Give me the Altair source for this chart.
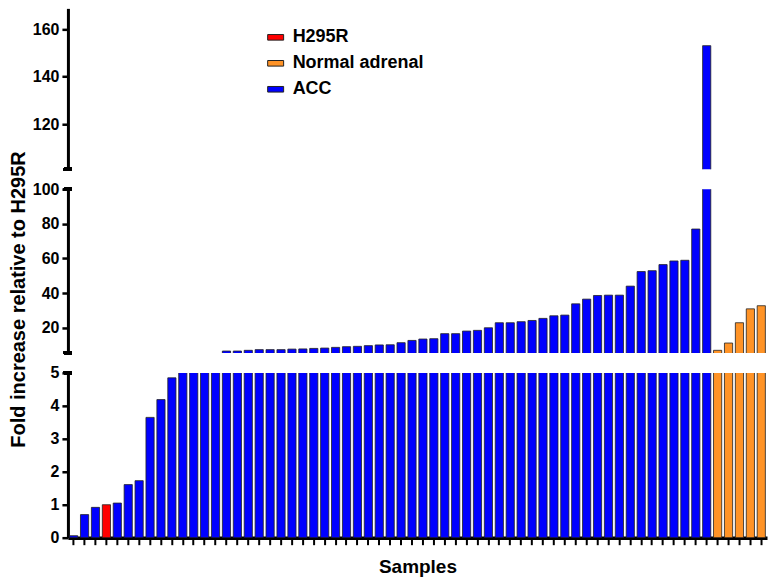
import altair as alt
import pandas as pd

# ---- data ----
values = [0.06, 0.70, 0.92, 1.00, 1.05, 1.61, 1.73, 3.65, 4.19, 4.85,
          5.1, 5.15, 5.2, 5.25, 6.7, 6.7, 7.1, 7.5, 7.5, 7.5,
          7.8, 7.9, 8.2, 8.4, 8.8, 9.2, 9.4, 9.8, 10.2, 10.3,
          11.5, 12.8, 13.6, 13.8, 16.7, 16.7, 18.2, 18.6, 20.1, 23.0,
          23.0, 23.6, 24.3, 25.5, 27.0, 27.4, 33.9, 36.6, 38.7, 38.9,
          38.9, 44.1, 52.5, 53.0, 56.5, 58.6, 59.0, 77.0, 153.0,
          7.1, 11.3, 23.0, 31.0, 32.8]
groups = (["ACC"] * 3 + ["H295R"] + ["ACC"] * 55 + ["Normal adrenal"] * 5)
samples = [f"S{i + 1}" for i in range(len(values))]

categories = ["H295R", "Normal adrenal", "ACC"]
colors = ["#FF0000", "#FF9326", "#0000FF"]

top_domain = [101, 168.7]
mid_domain = [5.6, 100]
low_domain = [0, 5]
top_ticks = [120, 140, 160]
mid_ticks = [20, 40, 60, 80, 100]
low_ticks = [0, 1, 2, 3, 4, 5]

df = pd.DataFrame({"sample": samples, "value": values, "group": groups})

FONT = "Liberation Sans"
legend_path = "M-1,-0.35L1,-0.35L1,0.35L-1,0.35Z"


def yaxis(ticks, title=None, **kw):
    args = dict(values=ticks, tickCount=len(ticks) + 4, format="d", labelFont=FONT,
                labelFontSize=16, labelFontWeight="bold", labelColor="black",
                labelPadding=3, tickSize=6, tickWidth=2.5, tickColor="black",
                domainColor="black", domainWidth=3, grid=False, labelOverlap=False,
                labelFlush=False, title=title)
    args.update(kw)
    return alt.Axis(**args)


def panel(domain, ticks, height, caps, xaxis=None, ytitle=None, legend=None, yextra=None):
    xscale = alt.Scale(paddingInner=0.25, paddingOuter=0.15)
    color = alt.Color("group:N", scale=alt.Scale(domain=categories, range=colors),
                      legend=legend)
    ykw = yextra or {}
    bars = alt.Chart(df).mark_bar(stroke="#222222", strokeWidth=0.8, clip=True, opacity=1).encode(
        x=alt.X("sample:O", sort=None, scale=xscale, axis=xaxis),
        y=alt.Y("value:Q", scale=alt.Scale(domain=domain, nice=False, zero=False),
                axis=yaxis(ticks, ytitle, **ykw)),
        y2=alt.datum(0),
        color=color,
    )
    layers = [bars]
    for c in caps:
        layers.append(
            alt.Chart(df).mark_rule(color="black", strokeWidth=3, clip=False).encode(
                x=alt.value(-4), x2=alt.value(4), y=alt.datum(c)
            )
        )
    return alt.layer(*layers).properties(width=700, height=height)


legend = alt.Legend(orient="none", legendX=199, legendY=20, title=None,
                    symbolType=legend_path, symbolSize=256, symbolStrokeColor="#222222",
                    symbolStrokeWidth=1, symbolOpacity=1,
                    labelFont=FONT, labelFontSize=18, labelFontWeight="bold",
                    labelColor="black", labelOffset=8, rowPadding=8, padding=0)

top = panel(top_domain, top_ticks, 161, [top_domain[0]], legend=legend)
mid = panel(mid_domain, mid_ticks, 164, [mid_domain[0], mid_domain[1]],
            ytitle="Fold increase relative to H295R",
            yextra=dict(titleFont=FONT, titleFontSize=20, titleFontWeight="bold",
                        titleColor="black", titlePadding=4, titleY=110))
xaxis = alt.Axis(labels=False, title="Samples", ticks=True, tickSize=7, tickWidth=2,
                 tickColor="black", domainColor="black", domainWidth=3.5,
                 bandPosition=0.5, titleFont=FONT, titleFontSize=19,
                 titleFontWeight="bold", titleColor="black", titlePadding=12)
low = panel(low_domain, low_ticks, 165, [low_domain[1]], xaxis=xaxis)

chart = alt.vconcat(top, mid, low, spacing=20, bounds="flush").resolve_legend(
    color="independent"
).properties(
    padding={"left": 0, "top": 0, "right": 5, "bottom": 5}
).configure_view(stroke=None)

chart.save("out.html", embed_options={"renderer": "svg", "actions": False})
